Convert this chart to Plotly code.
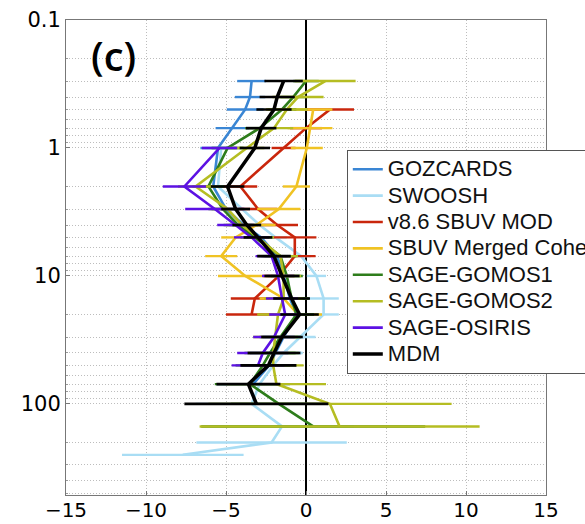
import numpy as np
import plotly.graph_objects as go

# ---------------- data ----------------
gozcards_p = [0.3, 0.4, 0.5, 0.7, 1, 2, 3, 4, 5, 7, 10, 15, 20, 30, 40, 50, 70]
gozcards_v = [-3.4, -3.5, -3.8, -4.6, -5.5, -5.8, -5.0, -3.9, -2.8, -1.8, -1.4, -1.0, -0.6, -1.4, -1.9, -2.3, -3.3]
gozcards_e = [0.9, 0.95, 1.15, 1.05, 1.1, 1.0, 0.9, 0.9, 0.9, 1.0, 1.0, 1.1, 1.1, 1.3, 1.6, 1.7, 2.3]

swoosh_p = [1, 2, 3, 4, 5, 7, 10, 15, 20, 30, 40, 50, 70, 100, 150, 200, 250]
swoosh_v = [-5.3, -5.5, -4.0, -2.9, -1.9, -0.3, 0.65, 1.1, 1.1, -0.4, -1.4, -2.05, -2.9, -3.4, -1.5, -2.15, -7.7]
swoosh_e = [1.0, 1.0, 0.9, 0.8, 0.7, 0.6, 0.6, 0.95, 0.95, 1.0, 1.2, 1.3, 1.8, 3.5, 4.5, 4.7, 3.8]

sbuvmod_p = [0.5, 0.7, 1, 2, 3, 4, 5, 7, 10, 15, 20]
sbuvmod_v = [1.5, 0.0, -1.4, -4.1, -3.0, -1.8, -0.7, -0.7, -1.7, -3.2, -3.4]
sbuvmod_e = [1.5, 1.0, 0.75, 1.05, 1.2, 1.3, 1.35, 1.3, 1.0, 1.5, 1.6]

sbuvcoh_p = [0.5, 0.7, 1, 2, 3, 4, 5, 7, 10, 15, 20]
sbuvcoh_v = [0.45, 0.25, 0.05, -0.6, -1.7, -3.1, -4.4, -5.3, -3.8, -1.4, -0.5]
sbuvcoh_e = [1.2, 1.4, 1.0, 0.85, 1.35, 1.2, 0.9, 1.0, 1.7, 1.5, 1.5]

sg1_p = [0.3, 0.4, 0.5, 0.7, 1, 2, 3, 4, 5, 7, 10, 15, 20, 30, 40, 50, 70, 100, 150]
sg1_v = [0.0, -0.8, -1.5, -2.9, -4.9, -6.1, -5.2, -4.25, -3.2, -1.6, -1.2, -0.9, -0.6, -1.6, -2.25, -2.7, -3.5, -1.7, 0.45]
sg1_e = [0.8, 0.8, 0.9, 0.9, 1.0, 1.0, 0.9, 0.9, 0.9, 1.0, 1.0, 1.1, 1.1, 1.3, 1.6, 1.7, 2.2, 3.0, 7.0]

sg2_p = [0.3, 0.4, 0.5, 0.7, 1, 2, 3, 4, 5, 7, 10, 15, 20, 30, 40, 50, 70, 100, 150]
sg2_v = [1.2, -0.5, -1.2, -2.0, -3.7, -6.9, -4.9, -4.0, -3.0, -1.6, -1.4, -1.4, -1.75, -1.9, -2.05, -2.05, -1.85, 1.5, 2.1]
sg2_e = [1.9, 1.6, 1.3, 1.2, 1.1, 1.1, 1.0, 1.0, 1.0, 1.1, 1.1, 1.2, 1.3, 1.4, 1.6, 1.9, 3.1, 7.6, 8.75]

so_p = [1, 2, 3, 4, 5, 7, 10, 15, 20, 30, 40, 50]
so_v = [-5.4, -7.6, -5.7, -4.4, -3.4, -2.15, -1.75, -1.5, -1.3, -2.0, -2.7, -3.0]
so_e = [1.1, 1.35, 1.85, 1.15, 1.1, 1.0, 1.0, 1.0, 1.0, 1.3, 1.6, 1.65]

mdm_p = [0.3, 0.4, 0.5, 0.7, 1, 2, 3, 4, 5, 7, 10, 15, 20, 30, 40, 50, 70, 100]
mdm_v = [-1.4, -1.8, -2.0, -2.8, -3.2, -4.9, -4.4, -3.7, -3.0, -2.0, -1.5, -0.9, -0.4, -1.5, -2.0, -2.35, -3.6, -3.1]
mdm_e = [1.2, 1.1, 1.1, 0.95, 0.95, 1.05, 0.9, 0.9, 0.9, 1.05, 1.1, 1.15, 1.2, 1.3, 1.65, 1.75, 2.0, 4.5]

names = ["GOZCARDS", "SWOOSH", "v8.6 SBUV MOD", "SBUV Merged Cohesive",
         "SAGE-GOMOS1", "SAGE-GOMOS2", "SAGE-OSIRIS", "MDM"]
colors = ["#3a86d4", "#a9ddf4", "#c9260c", "#f0c324",
          "#2e7d1b", "#b5bd22", "#5c11e3", "#000000"]

x_ticks = [-15, -10, -5, 0, 5, 10, 15]
y_ticks = [0.1, 1, 10, 100]
y_ticktext = ["0.1", "1", "10", "100"]

series = [
    (gozcards_p, gozcards_v, gozcards_e),
    (swoosh_p, swoosh_v, swoosh_e),
    (sbuvmod_p, sbuvmod_v, sbuvmod_e),
    (sbuvcoh_p, sbuvcoh_v, sbuvcoh_e),
    (sg1_p, sg1_v, sg1_e),
    (sg2_p, sg2_v, sg2_e),
    (so_p, so_v, so_e),
    (mdm_p, mdm_v, mdm_e),
]

fig = go.Figure()
for (p, v, e), name, c in zip(series, names, colors):
    w = 3.5 if name == "MDM" else 2.6
    fig.add_trace(go.Scatter(
        x=v, y=p, mode="lines",
        name='<span style="font-size:22px">' + name + '</span>',
        line=dict(color=c, width=w),
        error_x=dict(type="data", array=e, color=c,
                     thickness=2.4 if name != "MDM" else 2.6, width=0),
    ))

grid = "#bdbdbd"
gdash = "1px,2px"
fig.update_layout(
    width=585, height=524,
    margin=dict(l=66, r=39, t=20, b=29, autoexpand=False),
    paper_bgcolor="white", plot_bgcolor="white",
    showlegend=True,
    legend=dict(x=0.585, y=0.7263, xanchor="left", yanchor="top",
                bgcolor="white", bordercolor="#555555", borderwidth=1,
                font=dict(family="Liberation Sans, Arial", size=18, color="#111"),
                tracegroupgap=0, itemwidth=30),
    xaxis=dict(range=[-15, 15], tickvals=x_ticks,
               showgrid=True, gridcolor=grid, griddash=gdash, gridwidth=1,
               zeroline=True, zerolinecolor="black", zerolinewidth=1.6,
               showline=True, linecolor="#777777", linewidth=1, mirror=True,
               ticks="inside", ticklen=4, tickcolor="#777777",
               ticklabelstandoff=-3,
               tickfont=dict(family="DejaVu Sans", size=20, color="black")),
    yaxis=dict(type="log", range=[np.log10(515), -1],
               tickvals=y_ticks, ticktext=y_ticktext,
               showgrid=True, gridcolor=grid, griddash=gdash, gridwidth=1,
               showline=True, linecolor="#777777", linewidth=1, mirror=True,
               ticks="inside", ticklen=4, tickcolor="#777777",
               tickfont=dict(family="DejaVu Sans", size=21, color="black"),
               minor=dict(dtick="D1", showgrid=True, gridcolor=grid,
                          griddash=gdash, gridwidth=1, ticks="inside",
                          ticklen=2, tickcolor="#999999")),
    annotations=[dict(text="(c)", xref="paper", yref="paper",
                      x=0.098, y=0.926, xanchor="center", yanchor="middle",
                      showarrow=False,
                      font=dict(family="Open Sans", size=40, color="black",
                                weight=600))],
)

fig.write_html("out.html")
